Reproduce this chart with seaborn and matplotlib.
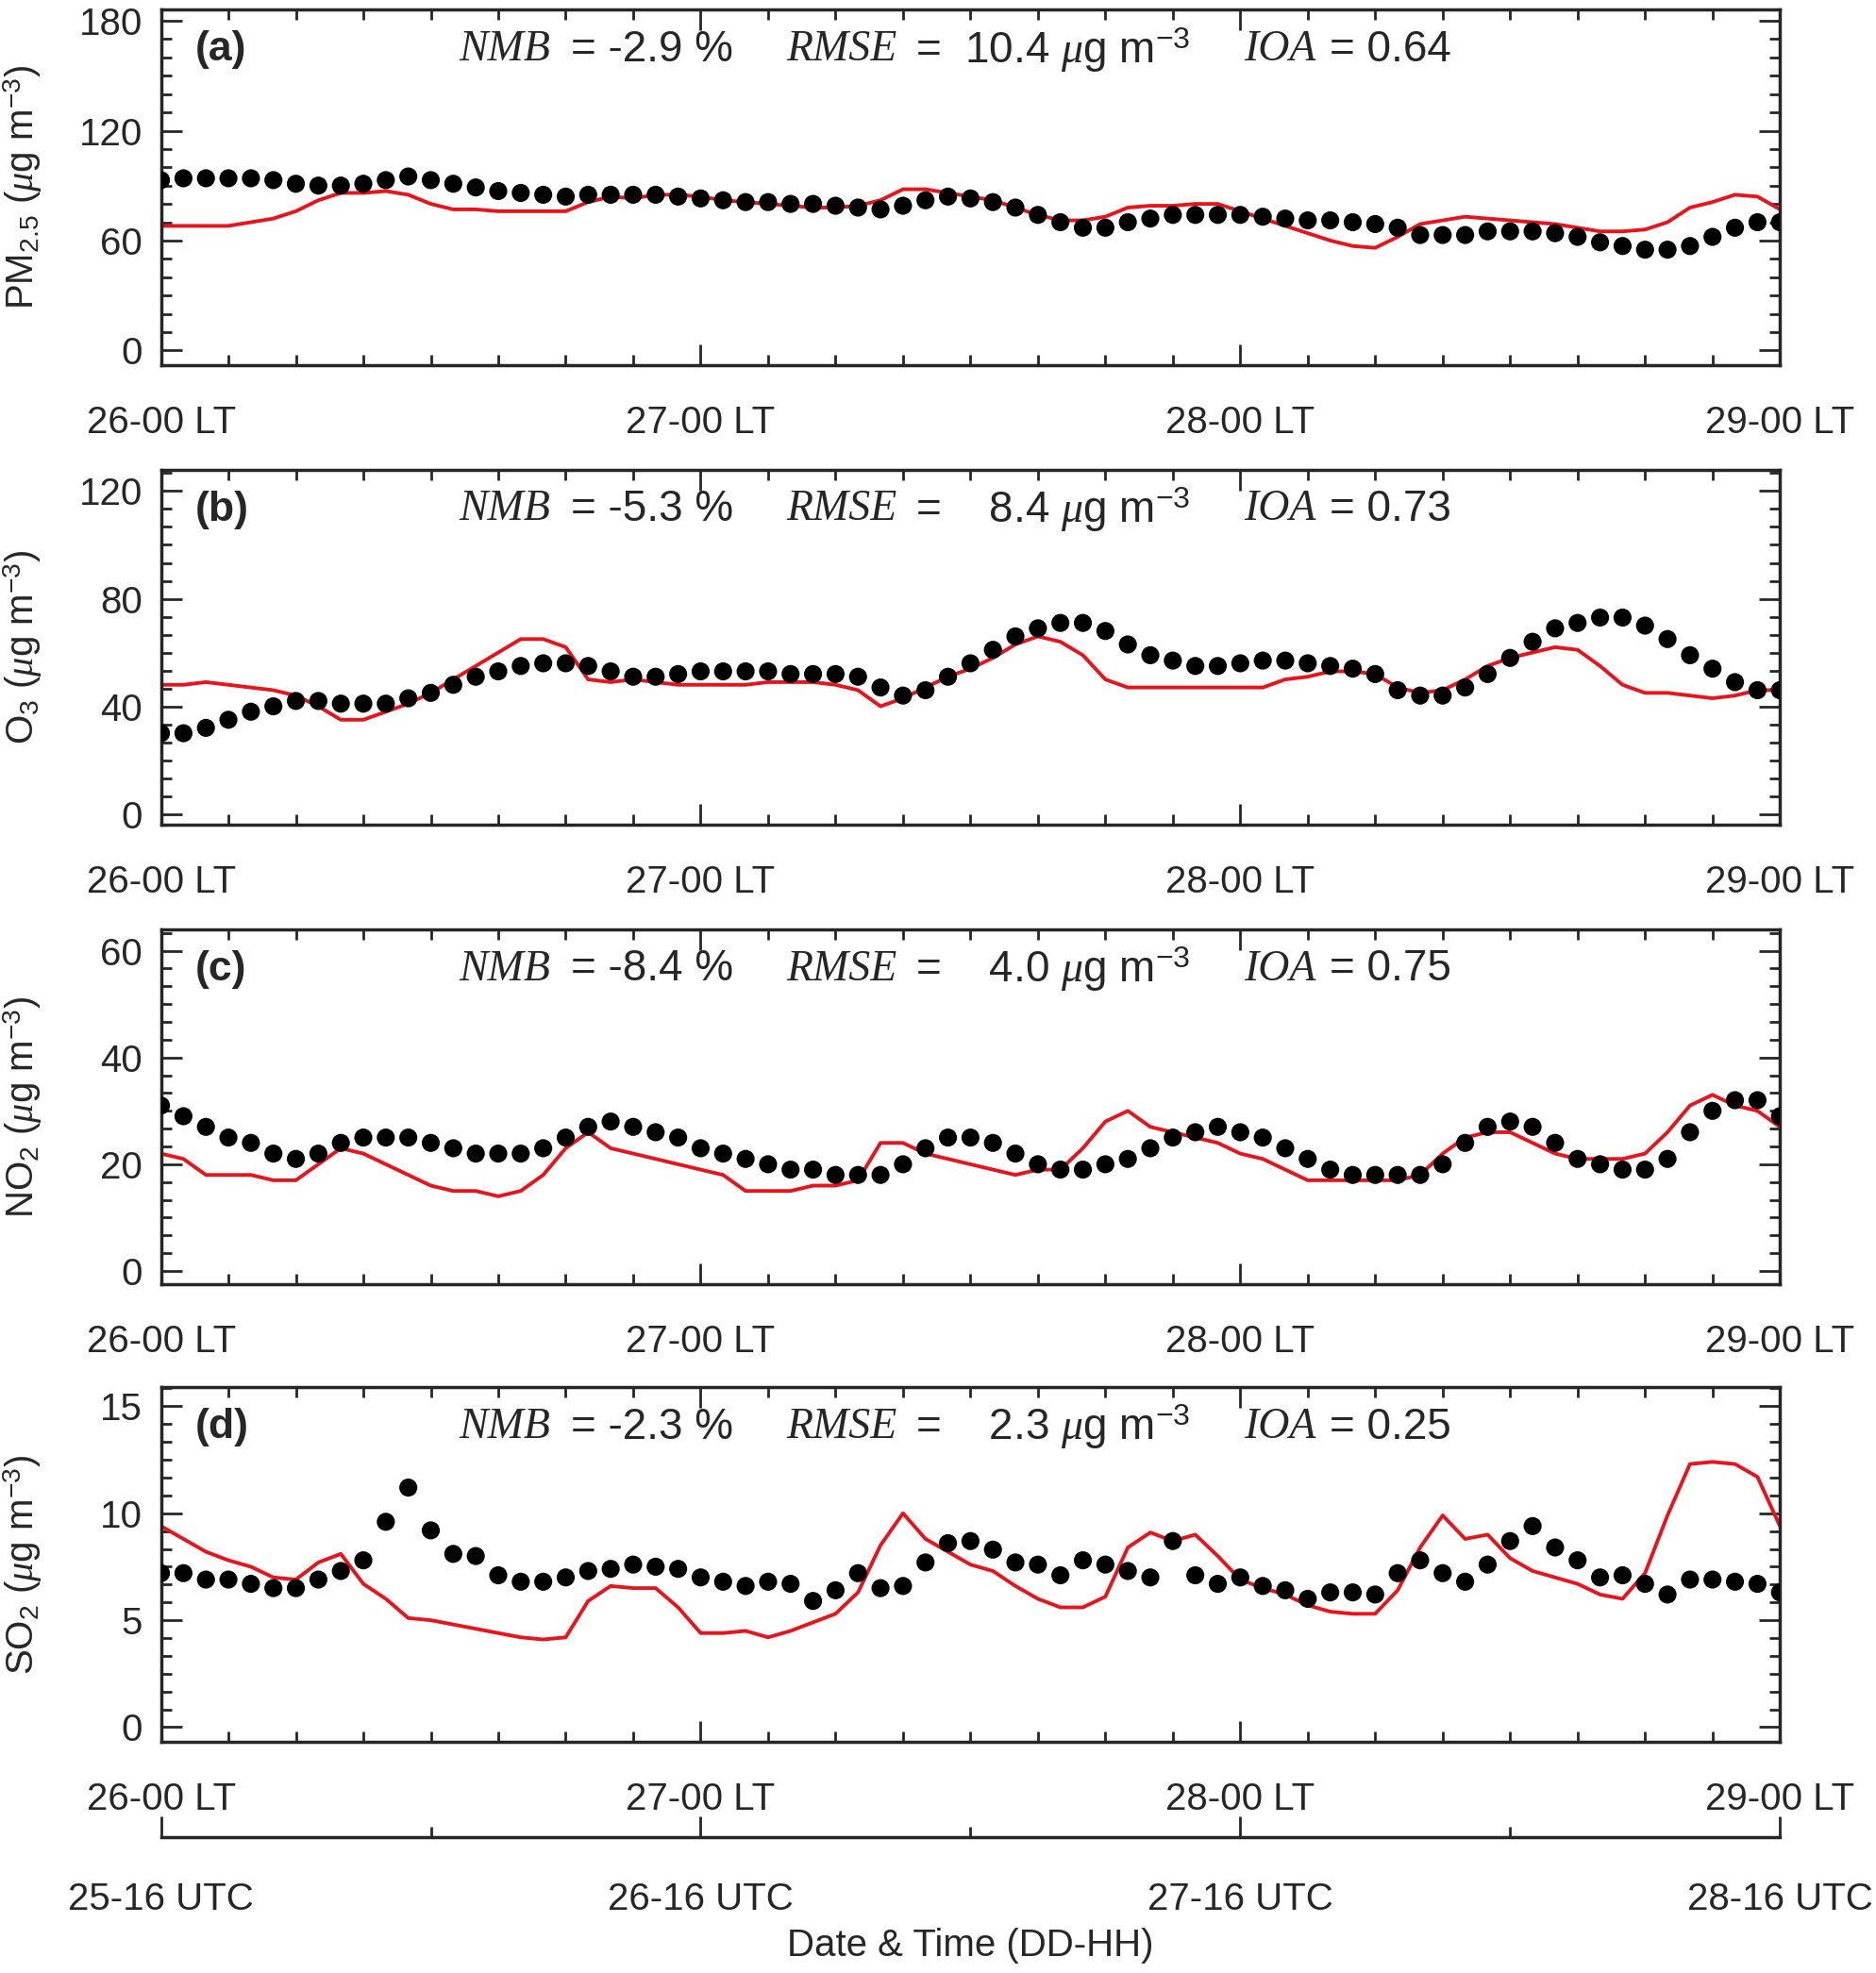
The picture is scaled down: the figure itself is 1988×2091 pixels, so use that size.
import matplotlib
matplotlib.use("Agg")
import matplotlib.pyplot as plt
import numpy as np
import pandas as pd
import seaborn as sns
from matplotlib.ticker import MultipleLocator

sns.set_style("ticks")
plt.rcParams['font.family'] = ['Liberation Sans', 'DejaVu Sans']
plt.rcParams['mathtext.fontset'] = 'custom'
plt.rcParams['mathtext.rm'] = 'Liberation Sans'
plt.rcParams['mathtext.it'] = 'Liberation Serif:italic'

hours = list(range(73))

pm25_obs = [93, 94, 94, 94, 94, 93, 91, 90, 90, 91, 93, 95, 93, 91, 89, 87, 86, 85, 84, 85,
            85, 85, 85, 84, 83, 82, 81, 81, 80, 80, 79, 78, 77, 79, 82, 84, 83, 81, 78, 74,
            70, 67, 67, 70, 72, 74, 74, 74, 74, 73, 72, 71, 71, 70, 69, 67, 63, 63, 63, 65,
            65, 65, 64, 62, 59, 57, 55, 55, 57, 62, 67, 70, 70]
pm25_mod = [68, 68, 68, 68, 70, 72, 76, 82, 86, 86, 87, 85, 80, 77, 77, 76, 76, 76, 76, 81,
            84, 83, 85, 85, 84, 82, 81, 80, 79, 78, 78, 79, 82, 88, 88, 86, 84, 82, 78, 74,
            71, 71, 73, 78, 79, 79, 80, 80, 76, 72, 68, 64, 60, 57, 56, 62, 69, 71, 73, 72,
            71, 70, 69, 67, 65, 65, 66, 70, 78, 81, 85, 84, 77]

o3_obs = [30, 30, 32, 35, 38, 40, 42, 42, 41, 41, 41, 43, 45, 48, 51, 53, 55, 56, 56, 55,
          53, 51, 51, 52, 53, 53, 53, 53, 52, 52, 52, 51, 47, 44, 46, 51, 56, 61, 66, 69,
          71, 71, 68, 63, 59, 57, 55, 55, 56, 57, 57, 56, 55, 54, 52, 46, 44, 44, 47, 52,
          58, 64, 69, 71, 73, 73, 70, 65, 59, 54, 49, 46, 46]
o3_mod = [48, 48, 49, 48, 47, 46, 44, 40, 35, 35, 38, 41, 45, 50, 55, 60, 65, 65, 62, 50,
          49, 50, 49, 48, 48, 48, 48, 49, 49, 49, 48, 46, 40, 43, 47, 51, 54, 58, 63, 66,
          64, 59, 50, 47, 47, 47, 47, 47, 47, 47, 50, 51, 53, 53, 52, 47, 45, 46, 50, 55,
          58, 60, 62, 61, 55, 48, 45, 45, 44, 43, 44, 46, 46]

no2_obs = [31, 29, 27, 25, 24, 22, 21, 22, 24, 25, 25, 25, 24, 23, 22, 22, 22, 23, 25, 27,
           28, 27, 26, 25, 23, 22, 21, 20, 19, 19, 18, 18, 18, 20, 23, 25, 25, 24, 22, 20,
           19, 19, 20, 21, 23, 25, 26, 27, 26, 25, 23, 21, 19, 18, 18, 18, 18, 20, 24, 27,
           28, 27, 24, 21, 20, 19, 19, 21, 26, 30, 32, 32, 29]
no2_mod = [22, 21, 18, 18, 18, 17, 17, 20, 23, 22, 20, 18, 16, 15, 15, 14, 15, 18, 23, 26,
           23, 22, 21, 20, 19, 18, 15, 15, 15, 16, 16, 17, 24, 24, 22, 21, 20, 19, 18, 19,
           19, 23, 28, 30, 27, 26, 25, 24, 22, 21, 19, 17, 17, 17, 17, 17, 18, 22, 25, 26,
           26, 24, 22, 21, 21, 21, 22, 26, 31, 33, 31, 30, 27]

so2_obs = [7.2, 7.2, 6.9, 6.9, 6.7, 6.5, 6.5, 6.9, 7.3, 7.8, 9.6, 11.2, 9.2, 8.1, 8.0, 7.1,
           6.8, 6.8, 7.0, 7.3, 7.4, 7.6, 7.5, 7.4, 7.0, 6.8, 6.6, 6.8, 6.7, 5.9, 6.4, 7.2,
           6.5, 6.6, 7.7, 8.6, 8.7, 8.3, 7.7, 7.6, 7.1, 7.8, 7.6, 7.3, 7.0, 8.7, 7.1, 6.7,
           7.0, 6.6, 6.4, 6.0, 6.3, 6.3, 6.2, 7.2, 7.8, 7.2, 6.8, 7.6, 8.7, 9.4, 8.4, 7.8,
           7.0, 7.1, 6.7, 6.2, 6.9, 6.9, 6.8, 6.7, 6.3]
so2_mod = [9.4, 8.8, 8.2, 7.8, 7.5, 7.0, 6.9, 7.7, 8.1, 6.7, 6.0, 5.1, 5.0, 4.8, 4.6, 4.4,
           4.2, 4.1, 4.2, 5.9, 6.6, 6.5, 6.5, 5.6, 4.4, 4.4, 4.5, 4.2, 4.5, 4.9, 5.3, 6.3,
           8.5, 10.0, 8.8, 8.2, 7.6, 7.3, 6.6, 6.0, 5.6, 5.6, 6.1, 8.4, 9.1, 8.7, 9.0, 8.0,
           6.9, 6.5, 6.2, 5.7, 5.4, 5.3, 5.3, 6.4, 8.4, 9.9, 8.8, 9.0, 7.9, 7.3, 7.0, 6.7,
           6.2, 6.0, 7.2, 9.9, 12.3, 12.4, 12.3, 11.7, 9.4]

panels = [
    ("(a)", r"PM$_{2.5}$ ($\mu$g m$^{-3}$)", pm25_obs, pm25_mod, (-8, 186), 60, "-2.9", "10.4", "0.64"),
    ("(b)", r"O$_3$ ($\mu$g m$^{-3}$)", o3_obs, o3_mod, (-4, 128), 40, "-5.3", "8.4", "0.73"),
    ("(c)", r"NO$_2$ ($\mu$g m$^{-3}$)", no2_obs, no2_mod, (-2.5, 64), 20, "-8.4", "4.0", "0.75"),
    ("(d)", r"SO$_2$ ($\mu$g m$^{-3}$)", so2_obs, so2_mod, (-0.7, 15.9), 5, "-2.3", "2.3", "0.25"),
]
bottoms = [0.815, 0.582, 0.349, 0.117]
lt_labels = ["26-00 LT", "27-00 LT", "28-00 LT", "29-00 LT"]
utc_labels = ["25-16 UTC", "26-16 UTC", "27-16 UTC", "28-16 UTC"]

fig = plt.figure(figsize=(19.88, 20.91), dpi=100)
L, W, H = 0.0858, 0.863, 0.18

def style_ax(ax, ymajor):
    ax.set_xlim(0, 72)
    ax.set_xticks([0, 24, 48, 72])
    ax.xaxis.set_minor_locator(MultipleLocator(3))
    ax.yaxis.set_major_locator(MultipleLocator(ymajor))
    ax.yaxis.set_minor_locator(MultipleLocator(ymajor / 6))
    ax.tick_params(which='both', direction='in', top=True, right=True, width=2)
    ax.tick_params(which='major', length=16, labelsize=29, pad=14)
    ax.tick_params(which='minor', length=8)
    ax.tick_params(axis='x', which='major', pad=30)
    for s in ax.spines.values():
        s.set_linewidth(2.5)

for (tag, ylab, obs, mod, ylim, ymaj, nmb, rmse, ioa), b in zip(panels, bottoms):
    ax = fig.add_axes([L, b, W, H])
    df = pd.DataFrame({'hour': hours, 'obs': obs, 'mod': mod})
    sns.lineplot(data=df, x='hour', y='mod', color='#e8141c', lw=2.8, ax=ax)
    sns.scatterplot(data=df, x='hour', y='obs', color='black', s=190, edgecolor='none', ax=ax, zorder=3)
    ax.set_ylim(*ylim)
    style_ax(ax, ymaj)
    ax.set_xticklabels(lt_labels)
    ax.set_xlabel("")
    ax.set_ylabel(ylab, fontsize=29)
    ax.yaxis.set_label_coords(-0.072, 0.5)
    ax.text(0.021, 0.887, tag, transform=ax.transAxes, fontsize=32, fontweight='bold', va='center')
    ty = 0.887
    sty = dict(transform=ax.transAxes, va='center', fontsize=33)
    ax.text(0.184, ty, "NMB", family='Liberation Serif', style='italic', **sty)
    ax.text(0.253, ty, "= " + nmb + " %", **sty)
    ax.text(0.386, ty, "RMSE", family='Liberation Serif', style='italic', **sty)
    ax.text(0.466, ty, "=  " + ("" if len(rmse) > 3 else "  ") + rmse + r" $\mathit{\mu}$g m$^{-3}$", **sty)
    ax.text(0.669, ty, "IOA", family='Liberation Serif', style='italic', **sty)
    ax.text(0.722, ty, "= " + ioa, **sty)

# secondary UTC axis
ax2 = fig.add_axes([L, 0.069, W, 0.001])
ax2.set_xlim(0, 72)
for k in ['top', 'left', 'right']:
    ax2.spines[k].set_visible(False)
ax2.spines['bottom'].set_linewidth(2.5)
ax2.set_yticks([])
ax2.set_xticks([0, 24, 48, 72])
ax2.set_xticklabels(utc_labels)
ax2.xaxis.set_minor_locator(MultipleLocator(12))
ax2.tick_params(axis='x', which='major', direction='in', length=16, width=2, labelsize=29, pad=34)
ax2.tick_params(axis='x', which='minor', direction='in', length=8, width=2)
ax2.set_xlabel("Date & Time (DD-HH)", fontsize=29, labelpad=8)
ax2.patch.set_visible(False)

fig.savefig("out.png", dpi=100)
